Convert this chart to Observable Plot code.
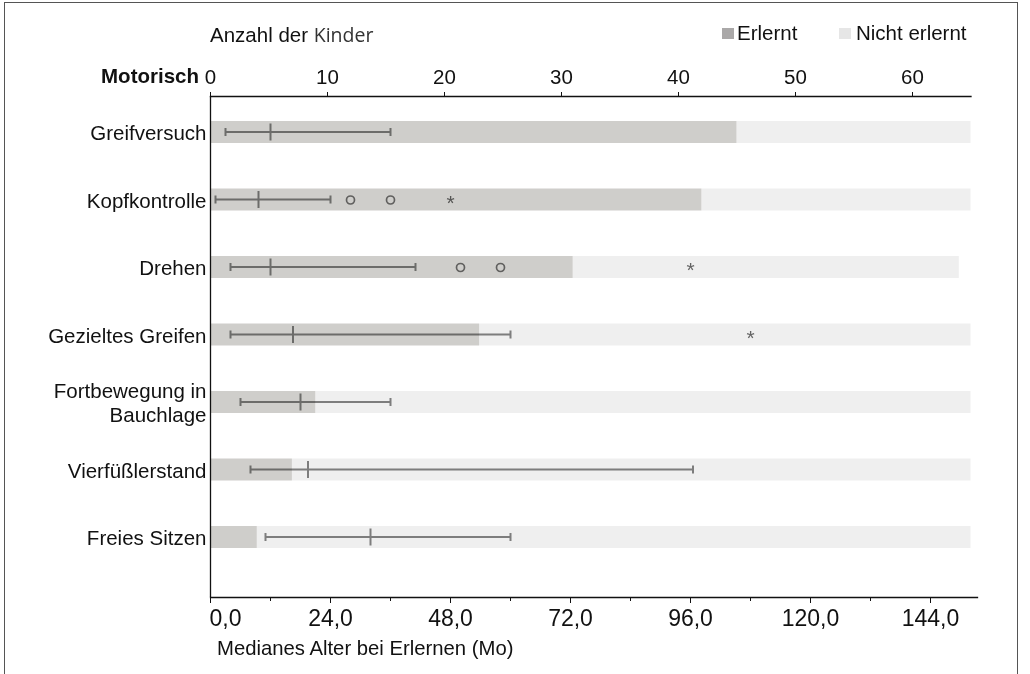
<!DOCTYPE html>
<html><head><meta charset="utf-8">
<script src="https://cdn.jsdelivr.net/npm/d3@7"></script>
<script src="https://cdn.jsdelivr.net/npm/@observablehq/plot@0.6"></script>
<style>
body{margin:0;background:#fff;font-family:"Liberation Sans",Arial,sans-serif;}
#wrap{position:relative;width:1030px;height:674px;overflow:hidden;background:#fff;}
#border{position:absolute;left:4px;top:2px;width:1012px;height:700px;border:1.5px solid #555;border-bottom:none;}
.layer{position:absolute;left:0;top:0;}
.lbl{position:absolute;font-size:20.5px;line-height:24px;color:#111;white-space:nowrap;}
.sw{position:absolute;width:11.5px;height:11px;}
</style></head><body>
<div id="wrap">
  <div id="border"></div>
  <div id="layerA" class="layer"></div>
  <div id="layerB" class="layer"></div>
  <div class="lbl" style="left:210px;top:23px;">Anzahl der <span style="font-family:'Open Sans';font-size:19.5px;color:#333;">Kinder</span></div>
  <div class="lbl" style="right:831px;top:64px;font-weight:bold;">Motorisch</div>
  <div class="sw" style="left:722px;top:28px;background:#aaa8a8;"></div>
  <div class="lbl" style="left:737px;top:21px;">Erlernt</div>
  <div class="sw" style="left:839px;top:28px;background:#e6e6e6;"></div>
  <div class="lbl" style="left:856px;top:21px;">Nicht erlernt</div>
  <div class="lbl" style="left:217px;top:636px;font-size:20.3px;">Medianes Alter bei Erlernen (Mo)</div>
</div>
<script>
// ---- data ----
const categories = ["Greifversuch","Kopfkontrolle","Drehen","Gezieltes Greifen","Fortbewegung in\nBauchlage","Vierfüßlerstand","Freies Sitzen"];
const learnedCount = [45, 42, 31, 23, 9, 7, 4];
const totalCount = [65, 65, 64, 65, 65, 65, 65];
const whiskerLow = [3, 1, 4, 4, 6, 8, 11];
const medianAge = [12, 9.6, 12, 16.5, 18, 19.5, 32];
const whiskerHigh = [36, 24, 41, 60, 36, 96.5, 60];
const outlierCat = ["Kopfkontrolle","Kopfkontrolle","Drehen","Drehen"];
const outlierAge = [28, 36, 50, 58];
const extremeCat = ["Kopfkontrolle","Drehen","Gezieltes Greifen"];
const extremeAge = [48, 96, 108];
const countTicks = [0, 10, 20, 30, 40, 50, 60];
const ageTicks = [0, 24, 48, 72, 96, 120, 144];
const ageMinorTicks = [12, 36, 60, 84, 108, 132];

// ---- tables ----
const barRows = categories.map((c, i) => ({cat: c, learned: learnedCount[i], total: totalCount[i]}));
const errRows = categories.map((c, i) => ({cat: c, lo: whiskerLow[i], med: medianAge[i], hi: whiskerHigh[i]}));
const outliers = outlierCat.map((c, i) => ({cat: c, age: outlierAge[i]}));
const extremes = extremeCat.map((c, i) => ({cat: c, age: extremeAge[i]}));

const W = 1030, H = 674;
const font = "'Liberation Sans', Arial, sans-serif";
const fmtAge = d => d.toFixed(1).replace(".", ",");
const yScale = () => ({type: "band", domain: categories, range: [98.25, 570.75], paddingInner: 0.674, paddingOuter: 0.337, round: false});

const plotA = Plot.plot({
  width: W, height: H,
  marginLeft: 210, marginRight: W - 970.5, marginTop: 96, marginBottom: H - 597,
  x: {domain: [0, 65]},
  y: yScale(),
  style: {background: "transparent", fontFamily: font, fontSize: "20.5px", color: "#111", overflow: "visible"},
  marks: [
    Plot.barX(barRows, {x1: "learned", x2: "total", y: "cat", fill: "#efefef"}),
    Plot.barX(barRows, {x1: d => 0, x2: "learned", y: "cat", fill: "#cfcecb"}),
    Plot.axisX(countTicks, {anchor: "top", tickSize: 5, tickPadding: 8, label: null, stroke: "#111"}),
    Plot.axisY({tickSize: 0, tickPadding: 4, label: null, lineHeight: 1.15}),
    Plot.frame({anchor: "top", stroke: "#111", strokeWidth: 1.3}),
    Plot.ruleX([0], {stroke: "#111", strokeWidth: 1.3})
  ]
});
document.getElementById("layerA").appendChild(plotA);

const wc = "#858585";
const plotB = Plot.plot({
  width: W, height: H,
  marginLeft: 210, marginRight: W - 977, marginTop: 96, marginBottom: H - 597,
  x: {domain: [0, 153.4]},
  y: {...yScale(), axis: null},
  style: {background: "transparent", fontFamily: font, fontSize: "23px", color: "#111", mixBlendMode: "multiply", overflow: "visible"},
  marks: [
    Plot.barX(errRows, {x1: "lo", x2: "hi", y: "cat", insetTop: 10, insetBottom: 10, fill: wc}),
    Plot.tickX(errRows, {x: "lo", y: "cat", insetTop: 7, insetBottom: 7, stroke: wc, strokeWidth: 2}),
    Plot.tickX(errRows, {x: "hi", y: "cat", insetTop: 7, insetBottom: 7, stroke: wc, strokeWidth: 2}),
    Plot.tickX(errRows, {x: "med", y: "cat", insetTop: 2.5, insetBottom: 2.5, stroke: wc, strokeWidth: 2}),
    Plot.dot(outliers, {x: "age", y: "cat", r: 4, stroke: "#777", strokeWidth: 1.7, fill: "none"}),
    Plot.text(extremes, {x: "age", y: "cat", text: d => "*", fontSize: 21, dy: 3, fill: "#6a6a6a"}),
    Plot.axisX(ageTicks, {anchor: "bottom", tickSize: 6, tickPadding: 6, label: null, stroke: "#111",
      tickFormat: d => d === 0 ? "" : fmtAge(d)}),
    Plot.text([ageTicks[0]], {x: d => d, text: fmtAge, frameAnchor: "bottom", lineAnchor: "top", dy: 12, dx: -1, textAnchor: "start", fill: "#111"}),
    Plot.axisX(ageMinorTicks, {anchor: "bottom", tickSize: 4, label: null, stroke: "#111", tickFormat: () => ""}),
    Plot.frame({anchor: "bottom", stroke: "#111", strokeWidth: 1.3})
  ]
});
document.getElementById("layerB").appendChild(plotB);
</script>
</body></html>
